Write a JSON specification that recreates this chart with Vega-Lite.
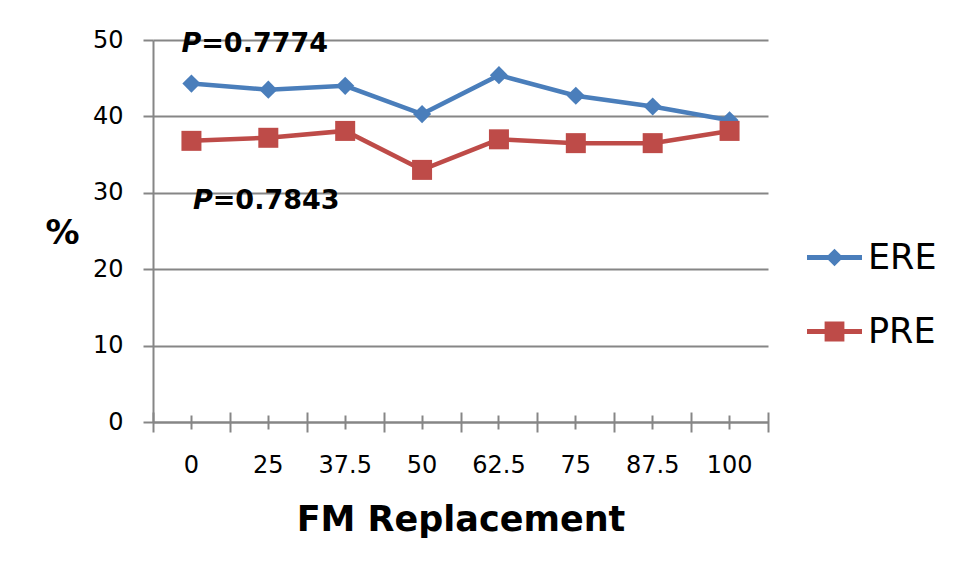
{
  "$schema": "https://vega.github.io/schema/vega-lite/v6.json",
  "width": 615,
  "height": 382,
  "autosize": {"type": "none"},
  "padding": {"left": 153, "top": 40, "right": 188, "bottom": 157},
  "background": "white",
  "config": {
    "view": {"stroke": null},
    "font": "DejaVu Sans"
  },
  "datasets": {
    "series": [
      {"FM": "0", "series": "ERE", "value": 44.3},
      {"FM": "25", "series": "ERE", "value": 43.5},
      {"FM": "37.5", "series": "ERE", "value": 44.0},
      {"FM": "50", "series": "ERE", "value": 40.3},
      {"FM": "62.5", "series": "ERE", "value": 45.4},
      {"FM": "75", "series": "ERE", "value": 42.7},
      {"FM": "87.5", "series": "ERE", "value": 41.3},
      {"FM": "100", "series": "ERE", "value": 39.5},
      {"FM": "0", "series": "PRE", "value": 36.8},
      {"FM": "25", "series": "PRE", "value": 37.2},
      {"FM": "37.5", "series": "PRE", "value": 38.1},
      {"FM": "50", "series": "PRE", "value": 33.0},
      {"FM": "62.5", "series": "PRE", "value": 37.0},
      {"FM": "75", "series": "PRE", "value": 36.5},
      {"FM": "87.5", "series": "PRE", "value": 36.5},
      {"FM": "100", "series": "PRE", "value": 38.1}
    ],
    "notes": [
      {"FM": "0", "series": "ERE", "at": 48.4, "p": "P", "rest": "=0.7774"},
      {"FM": "0", "series": "PRE", "at": 27.9, "p": "P", "rest": "=0.7843"}
    ]
  },
  "resolve": {
    "axis": {"x": "independent", "y": "independent"},
    "scale": {"color": "independent", "shape": "independent"},
    "legend": {"color": "independent", "shape": "independent"}
  },
  "layer": [
    {
      "data": {"name": "series"},
      "mark": {"type": "line", "strokeWidth": 4.5},
      "encoding": {
        "x": {
          "field": "FM", "type": "ordinal",
          "sort": ["0", "25", "37.5", "50", "62.5", "75", "87.5", "100"],
          "scale": {"type": "band", "paddingInner": 0, "paddingOuter": 0},
          "axis": {
            "orient": "bottom",
            "title": "FM Replacement",
            "titleFont": "DejaVu Sans", "titleFontSize": 35, "titleFontWeight": "bold",
            "titleColor": "black", "titleBaseline": "alphabetic", "titleY": 108,
            "labelAngle": 0, "labelFont": "DejaVu Sans", "labelFontSize": 24,
            "labelColor": "black", "labelBaseline": "alphabetic", "labelPadding": 50,
            "ticks": false, "grid": false,
            "domainColor": "#868686", "domainWidth": 2
          }
        },
        "y": {
          "field": "value", "type": "quantitative",
          "scale": {"domain": [0, 50], "nice": false},
          "axis": {
            "values": [0, 10, 20, 30, 40, 50],
            "title": "%",
            "titleAngle": 0, "titleFont": "DejaVu Sans", "titleFontSize": 34,
            "titleFontWeight": "bold", "titleColor": "black",
            "titleAlign": "center", "titleBaseline": "middle",
            "titleX": -91, "titleY": 193,
            "labelFont": "DejaVu Sans", "labelFontSize": 24, "labelColor": "black",
            "labelPadding": 20,
            "tickSize": 10, "tickColor": "#868686", "tickWidth": 2,
            "domainColor": "#868686", "domainWidth": 2,
            "grid": true, "gridColor": "#868686", "gridWidth": 2
          }
        },
        "color": {
          "field": "series", "type": "nominal",
          "scale": {"domain": ["ERE", "PRE"], "range": ["#4A7EBB", "#BE4B48"]},
          "legend": null
        }
      }
    },
    {
      "data": {"name": "series"},
      "transform": [{"filter": "datum.series === 'ERE'"}],
      "mark": {"type": "point", "shape": "diamond", "filled": true, "size": 330, "opacity": 1},
      "encoding": {
        "x": {
          "field": "FM", "type": "ordinal",
          "sort": ["0", "25", "37.5", "50", "62.5", "75", "87.5", "100"],
          "scale": {"type": "band", "paddingInner": 0, "paddingOuter": 0},
          "axis": {
            "orient": "bottom", "offset": -10,
            "title": null, "labels": false, "domain": false, "grid": false,
            "tickBand": "extent", "tickSize": 20, "tickColor": "#868686", "tickWidth": 2
          }
        },
        "y": {"field": "value", "type": "quantitative", "axis": null},
        "color": {"value": "#4A7EBB"}
      }
    },
    {
      "data": {"name": "series"},
      "transform": [{"filter": "datum.series === 'PRE'"}],
      "mark": {"type": "point", "shape": "square", "filled": true, "size": 400, "opacity": 1},
      "encoding": {
        "x": {
          "field": "FM", "type": "ordinal",
          "sort": ["0", "25", "37.5", "50", "62.5", "75", "87.5", "100"],
          "scale": {"type": "band", "paddingInner": 0, "paddingOuter": 0},
          "axis": {
            "orient": "bottom", "offset": -7,
            "title": null, "labels": false, "domain": false, "grid": false,
            "tickBand": "center", "tickSize": 14, "tickColor": "#868686", "tickWidth": 2
          }
        },
        "y": {"field": "value", "type": "quantitative", "axis": null},
        "color": {"value": "#BE4B48"}
      }
    },
    {
      "data": {"name": "series"},
      "mark": {"type": "point", "filled": true, "opacity": 0},
      "encoding": {
        "x": {
          "field": "FM", "type": "ordinal",
          "sort": ["0", "25", "37.5", "50", "62.5", "75", "87.5", "100"],
          "scale": {"type": "band", "paddingInner": 0, "paddingOuter": 0},
          "axis": null
        },
        "y": {"field": "value", "type": "quantitative", "axis": null},
        "color": {
          "field": "series", "type": "nominal",
          "scale": {"domain": ["ERE", "PRE"], "range": ["#4A7EBB", "#BE4B48"]},
          "legend": {
            "orient": "none", "legendX": 654, "legendY": 190, "title": null,
            "padding": 0, "symbolSize": 3025, "symbolOpacity": 1, "symbolStrokeWidth": 0,
            "labelFont": "DejaVu Sans", "labelFontSize": 35, "labelColor": "black",
            "labelOffset": 6, "rowPadding": 28
          }
        },
        "shape": {
          "field": "series", "type": "nominal",
          "scale": {
            "domain": ["ERE", "PRE"],
            "range": [
              "M-1,-0.09L1,-0.09L1,0.09L-1,0.09Z M0,-0.32L0.32,0L0,0.32L-0.32,0Z",
              "M-1,-0.09L1,-0.09L1,0.09L-1,0.09Z M-0.36,-0.36L0.36,-0.36L0.36,0.36L-0.36,0.36Z"
            ]
          },
          "legend": {
            "orient": "none", "legendX": 654, "legendY": 190, "title": null,
            "padding": 0, "symbolSize": 3025, "symbolOpacity": 1, "symbolStrokeWidth": 0,
            "labelFont": "DejaVu Sans", "labelFontSize": 35, "labelColor": "black",
            "labelOffset": 6, "rowPadding": 28
          }
        }
      }
    },
    {
      "data": {"name": "notes"},
      "transform": [{"filter": "datum.series === 'ERE'"}],
      "mark": {"type": "text", "font": "DejaVu Sans", "fontSize": 27, "fontWeight": "bold",
               "fontStyle": "italic", "align": "left", "baseline": "alphabetic",
               "color": "black", "dx": -10},
      "encoding": {
        "x": {
          "field": "FM", "type": "ordinal",
          "sort": ["0", "25", "37.5", "50", "62.5", "75", "87.5", "100"],
          "scale": {"type": "band", "paddingInner": 0, "paddingOuter": 0},
          "bandPosition": 0.5,
          "axis": null
        },
        "y": {"field": "at", "type": "quantitative", "axis": null},
        "text": {"field": "p"}
      }
    },
    {
      "data": {"name": "notes"},
      "transform": [{"filter": "datum.series === 'ERE'"}],
      "mark": {"type": "text", "font": "DejaVu Sans", "fontSize": 27, "fontWeight": "bold",
               "align": "left", "baseline": "alphabetic", "color": "black", "dx": 9.8},
      "encoding": {
        "x": {
          "field": "FM", "type": "ordinal",
          "sort": ["0", "25", "37.5", "50", "62.5", "75", "87.5", "100"],
          "scale": {"type": "band", "paddingInner": 0, "paddingOuter": 0},
          "bandPosition": 0.5,
          "axis": null
        },
        "y": {"field": "at", "type": "quantitative", "axis": null},
        "text": {"field": "rest"}
      }
    },
    {
      "data": {"name": "notes"},
      "transform": [{"filter": "datum.series === 'PRE'"}],
      "mark": {"type": "text", "font": "DejaVu Sans", "fontSize": 27, "fontWeight": "bold",
               "fontStyle": "italic", "align": "left", "baseline": "alphabetic",
               "color": "black", "dx": 1.5},
      "encoding": {
        "x": {
          "field": "FM", "type": "ordinal",
          "sort": ["0", "25", "37.5", "50", "62.5", "75", "87.5", "100"],
          "scale": {"type": "band", "paddingInner": 0, "paddingOuter": 0},
          "bandPosition": 0.5,
          "axis": null
        },
        "y": {"field": "at", "type": "quantitative", "axis": null},
        "text": {"field": "p"}
      }
    },
    {
      "data": {"name": "notes"},
      "transform": [{"filter": "datum.series === 'PRE'"}],
      "mark": {"type": "text", "font": "DejaVu Sans", "fontSize": 27, "fontWeight": "bold",
               "align": "left", "baseline": "alphabetic", "color": "black", "dx": 21.3},
      "encoding": {
        "x": {
          "field": "FM", "type": "ordinal",
          "sort": ["0", "25", "37.5", "50", "62.5", "75", "87.5", "100"],
          "scale": {"type": "band", "paddingInner": 0, "paddingOuter": 0},
          "bandPosition": 0.5,
          "axis": null
        },
        "y": {"field": "at", "type": "quantitative", "axis": null},
        "text": {"field": "rest"}
      }
    }
  ]
}
